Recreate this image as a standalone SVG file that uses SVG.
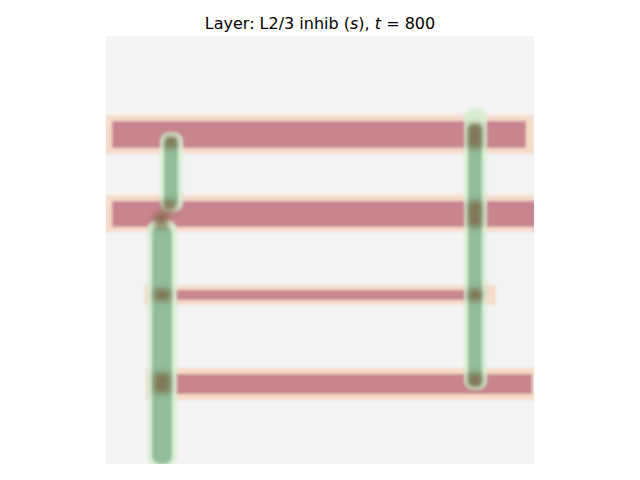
<svg xmlns="http://www.w3.org/2000/svg" width="640" height="480" viewBox="0 0 640 480">
  <defs>
    <clipPath id="img"><rect x="106" y="36" width="428" height="428"/></clipPath>
    <filter id="blur" x="-20%" y="-20%" width="140%" height="140%"><feGaussianBlur stdDeviation="1.6"/></filter>
    <filter id="blurS" x="-50%" y="-50%" width="200%" height="200%"><feGaussianBlur stdDeviation="3"/></filter>
  </defs>
  <style>
    .halo { fill: #f5dccb; }
    .red { fill: #c8848f; }
    .gh { fill: #d9eed6; }
    .g { fill: #8cbb99; }
    .x { fill: #7a6644; opacity: 0.8; }
    .title { font-family: "DejaVu Sans", sans-serif; font-size: 16px; fill: #000; }
  </style>
  <rect width="640" height="480" fill="#ffffff"/>
  <text class="title" x="320" y="29" text-anchor="middle">Layer: L2/3 inhib (<tspan font-style="italic">s</tspan>), <tspan font-style="italic">t</tspan> = 800</text>
  <g clip-path="url(#img)">
    <rect x="106" y="36" width="428" height="428" fill="#f4f4f4"/>
    <g id="bands" filter="url(#blur)">
      <rect class="halo" x="104" y="115" width="430" height="39"/>
      <rect class="red" x="112" y="121" width="414" height="27"/>
      <rect class="halo" x="104" y="195" width="434" height="37"/>
      <rect class="red" x="112" y="201" width="426" height="26"/>
      <rect class="halo" x="144" y="285" width="352" height="20"/>
      <rect class="red" x="160" y="290" width="316" height="10"/>
      <rect class="halo" x="146" y="368" width="390" height="32"/>
      <rect class="red" x="160" y="374" width="372" height="20"/>
    </g>
    <g id="cables" filter="url(#blur)" opacity="0.95">
      <rect class="gh" x="160" y="132" width="23" height="80" rx="9"/>
      <rect class="g" x="164" y="138" width="14" height="68" rx="6"/>
      <rect class="gh" x="147" y="220" width="30" height="246" rx="10"/>
      <rect class="g" x="152" y="226" width="20" height="238" rx="8"/>
      <rect class="gh" x="464" y="108" width="23" height="282" rx="9"/>
      <rect class="g" x="468" y="124" width="14" height="262" rx="6"/>
    </g>
    <g id="junctions" filter="url(#blurS)">
      <rect class="x" x="165" y="136" width="12" height="12"/>
      <rect class="x" x="162" y="200" width="14" height="12"/>
      <rect class="x" x="154" y="214" width="14" height="14"/>
      <rect class="x" x="154" y="289" width="16" height="12"/>
      <rect class="x" x="468" y="289" width="14" height="12"/>
      <rect class="x" x="154" y="373" width="16" height="20"/>
      <rect class="x" x="468" y="373" width="14" height="14"/>
      <rect class="x" x="468" y="124" width="14" height="24"/>
      <rect class="x" x="468" y="201" width="14" height="26"/>
    </g>
  </g>
</svg>
